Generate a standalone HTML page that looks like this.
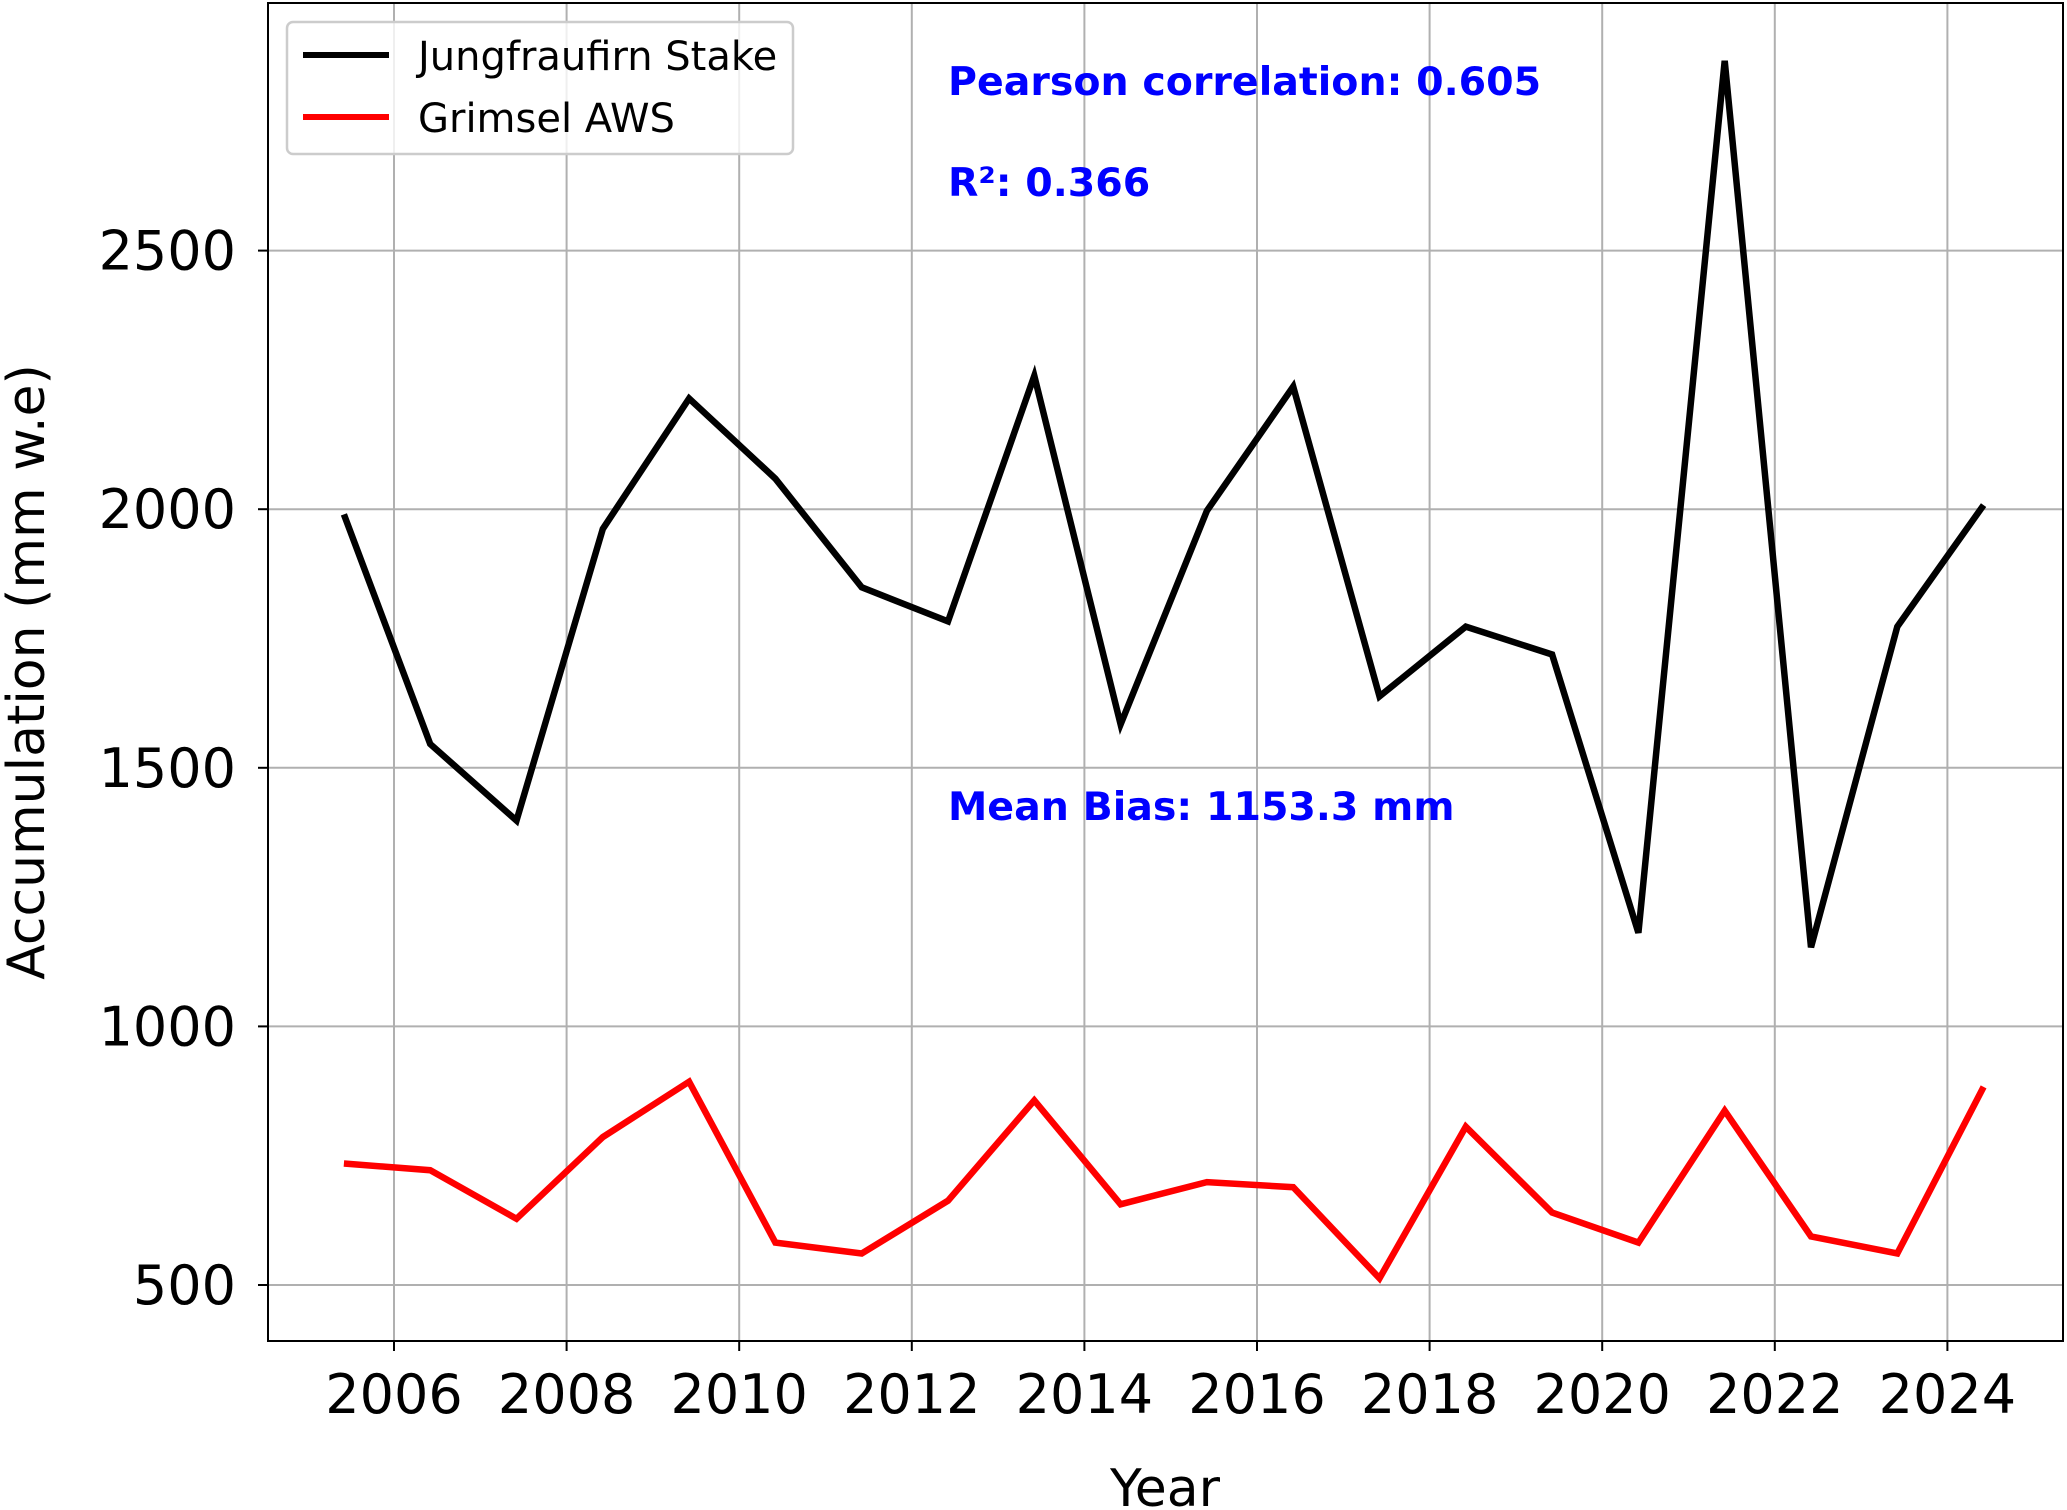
<!DOCTYPE html>
<html><head><meta charset="utf-8"><style>
body{margin:0;background:#fff}
svg{display:block;font-family:"DejaVu Sans","Liberation Sans",sans-serif}
</style></head><body>
<svg id="chart" width="2067" height="1510" viewBox="0 0 2067 1510">
<g id="grid"></g>
<g id="series"></g>
<g id="axes"></g>
<g>
<rect x="287" y="22" width="506" height="132" rx="6" fill="#fff" fill-opacity="0.8" stroke="#ccc" stroke-width="2.5"/>
<line x1="303" y1="55" x2="389" y2="55" stroke="#000" stroke-width="6"/>
<text x="418" y="70" font-size="40">Jungfraufirn Stake</text>
<line x1="303" y1="117" x2="389" y2="117" stroke="#f00" stroke-width="6"/>
<text x="418" y="132" font-size="40">Grimsel AWS</text>
</g>
<g fill="#0000ff" font-weight="bold" font-size="39.5">
<text x="948" y="95">Pearson correlation: 0.605</text>
<text x="948" y="196">R²: 0.366</text>
<text x="948" y="820">Mean Bias: 1153.3 mm</text>
</g>
<text x="1165" y="1506" font-size="52" text-anchor="middle">Year</text>
<text transform="translate(44,672) rotate(-90)" font-size="52" text-anchor="middle">Accumulation (mm w.e)</text>
</svg>
<script>
const years=[2005,2006,2007,2008,2009,2010,2011,2012,2013,2014,2015,2016,2017,2018,2019,2020,2021,2022,2023,2024];
const stakeValues=[1990,1546,1398,1962,2214,2059,1849,1783,2258,1584,1997,2237,1638,1773,1719,1181,2867,1153,1773,2008];
const awsValues=[735,722,628,786,893,582,561,663,857,656,699,689,513,806,640,582,837,594,561,883];
const xTicks=[2006,2008,2010,2012,2014,2016,2018,2020,2022,2024];
const yTicks=[500,1000,1500,2000,2500];
const L=268,R=2063,T=3,B=1341;
const xs=v=>394+(v-2006)*86.3;
const ys=v=>1285-(v-500)*258.6/500;
const NS="http://www.w3.org/2000/svg";
function mk(tag,attrs,parent){const e=document.createElementNS(NS,tag);for(const k in attrs)e.setAttribute(k,attrs[k]);parent.appendChild(e);return e;}
const grid=document.getElementById('grid'),axes=document.getElementById('axes'),series=document.getElementById('series');
xTicks.forEach(t=>{
 const x=xs(t);
 const g=mk('line',{x1:x,x2:x,y1:T,y2:B,stroke:'#b0b0b0','stroke-width':2},grid);
 
 
 const tk=mk('line',{x1:x,x2:x,y1:B,y2:B+10,stroke:'#000','stroke-width':2},axes);
 
 
 const tx=mk('text',{x:x,y:1413,'font-size':54,'text-anchor':'middle'},axes);
 tx.textContent=t;
 
 
});
yTicks.forEach(t=>{
 const y=ys(t);
 const g=mk('line',{x1:L,x2:R,y1:y,y2:y,stroke:'#b0b0b0','stroke-width':2},grid);
 
 
 const tk=mk('line',{x1:L-10,x2:L,y1:y,y2:y,stroke:'#000','stroke-width':2},axes);
 
 
 const tx=mk('text',{x:236,y:y+19,'font-size':54,'text-anchor':'end'},axes);
 tx.textContent=t;
 
 
});
const frame=mk('rect',{x:L,y:T,width:R-L,height:B-T,fill:'none',stroke:'#000','stroke-width':2},axes);


function line(vals,color,name){
 const pts=vals.map((v,i)=>xs(years[i]+0.42).toFixed(1)+','+ys(v).toFixed(1)).join(' ');
 const p=mk('polyline',{points:pts,fill:'none',stroke:color,'stroke-width':6.5,'stroke-linejoin':'miter'},series);
 
 
}
line(awsValues,'#ff0000','grimsel-aws-line');
line(stakeValues,'#000000','jungfraufirn-stake-line');
</script>
</body></html>
